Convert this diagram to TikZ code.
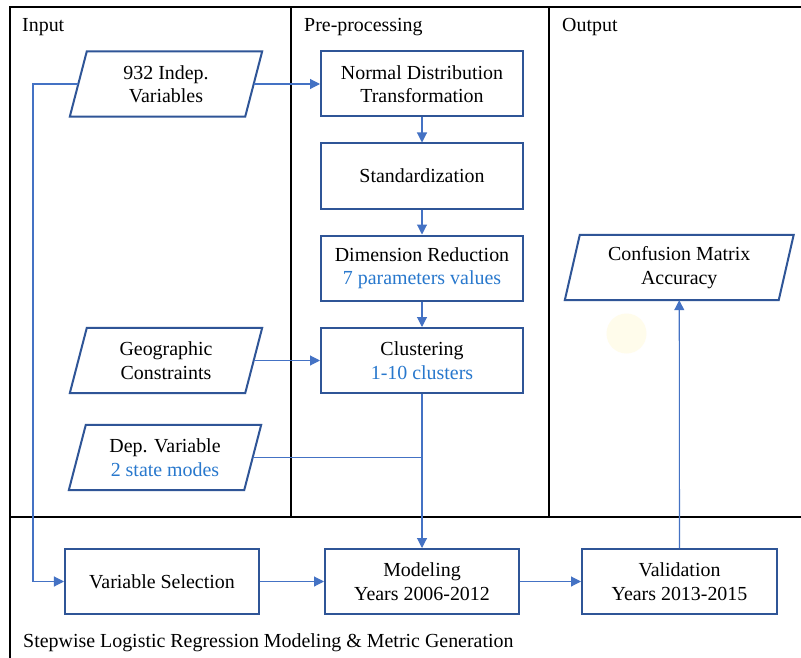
\documentclass[tikz,border=0pt]{standalone}
\usepackage{fontspec}
\setmainfont{Liberation Serif}
\usetikzlibrary{arrows.meta,calc}
\definecolor{boxblue}{RGB}{47,85,151}
\definecolor{linkblue}{RGB}{68,114,196}
\definecolor{textblue}{RGB}{40,120,205}
\definecolor{faint}{RGB}{255,252,235}
\tikzset{
  x=1bp, y=-1bp,
  every node/.style={font=\fontsize{20}{23.5}\selectfont, align=center, inner sep=0pt},
  frame/.style={draw=black, line width=2bp},
  procbox/.style={draw=boxblue, line width=2bp, rectangle, minimum width=#1, minimum height=65bp},
  procbox/.default=202bp,
  databox/.style={rectangle, minimum width=#1, minimum height=65bp},
  databox/.default=175bp,
  para/.style={draw=boxblue, line width=2bp, line join=miter},
  link/.style={draw=linkblue, line width=1.1bp},
  arr/.style={link, -{Triangle[length=10bp,width=10bp]}},
  paneltitle/.style={anchor=west},
  sub/.style={text=textblue}
}
\newcommand{\paradraw}[2]{%
  \draw[para] ($(#1.north west)+(#2,0)$) -- ($(#1.north east)+(#2,0)$) -- ($(#1.south east)-(#2,0)$) -- ($(#1.south west)-(#2,0)$) -- cycle;}
\begin{document}
\begin{tikzpicture}
\useasboundingbox (0,0) rectangle (801,658);
\fill[white] (0,0) rectangle (801,658);

% frame
\draw[frame] (10,658) -- (10,7) -- (801,7);
\draw[frame] (10,517) -- (801,517);
\draw[frame] (291,7) -- (291,517);
\draw[frame] (549,7) -- (549,517);

% panel titles
\node[paneltitle] (tin) at (22,27) {Input};
\node[paneltitle] (tpre) at (304,27) {Pre-processing};
\node[paneltitle] (tout) at (562,27) {Output};
\node[paneltitle] (tstep) at (23,643) {Stepwise Logistic Regression Modeling \& Metric Generation};

% faint spot
\fill[faint] (626.5,333.5) circle (20);

% input data
\node[databox] (indep) at (166,84) {932 Indep.\\Variables};
\paradraw{indep}{8.5}
\node[databox] (geo) at (166,360.5) {Geographic\\Constraints};
\paradraw{geo}{8.5}
\node[databox] (dep) at (165,457.5) {Dep. Variable\\\textcolor{textblue}{2 state modes}};
\paradraw{dep}{8.5}

% pre-processing
\node[procbox] (norm) at (422,84) {Normal Distribution\\Transformation};
\node[procbox] (stand) at (422,176) {Standardization};
\node[procbox] (dim) at (422,268) {Dimension Reduction\\\textcolor{textblue}{7 parameters values}};
\node[procbox] (clus) at (422,360.5) {Clustering\\\textcolor{textblue}{1-10 clusters}};

% output
\node[databox=213.5bp] (conf) at (679.25,267.5) {Confusion Matrix\\Accuracy};
\paradraw{conf}{7.5}

% modeling row
\node[procbox=194bp] (varsel) at (162,581.5) {Variable Selection};
\node[procbox=194bp] (model) at (422,581.5) {Modeling\\Years 2006-2012};
\node[procbox=195bp] (valid) at (679.5,581.5) {Validation\\Years 2013-2015};

% connectors
\coordinate (loopTop) at (33,84);
\coordinate (loopBot) at (33,581.5);
\coordinate (join) at (422,457.5);
\draw[arr] (indep.east) -- (norm.west);
\draw[arr] (indep.west) -- (loopTop) -- (loopBot) -- (varsel.west);
\draw[arr] (norm.south) -- (stand.north);
\draw[arr] (stand.south) -- (dim.north);
\draw[arr] (dim.south) -- (clus.north);
\draw[arr] (geo.east) -- (clus.west);
\draw[arr] (clus.south) -- (model.north);
\draw[link] (dep.east) -- (join);
\draw[arr] (varsel.east) -- (model.west);
\draw[arr] (model.east) -- (valid.west);
\draw[arr] (valid.north) -- (conf.south);
\end{tikzpicture}
\end{document}
